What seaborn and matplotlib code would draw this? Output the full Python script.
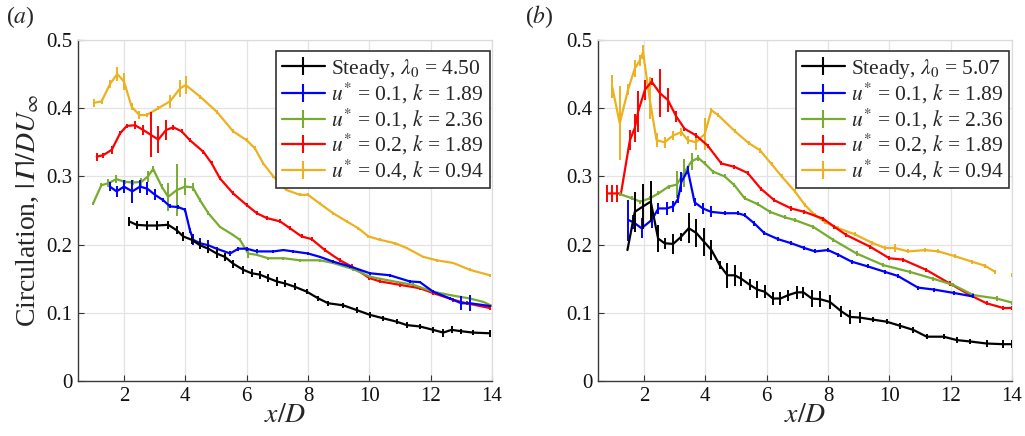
import numpy as np
import pandas as pd
import matplotlib
matplotlib.use("Agg")
import matplotlib.pyplot as plt
from matplotlib.lines import Line2D
from matplotlib.legend_handler import HandlerTuple
import seaborn as sns

# ---------------- panel (a) ----------------
A_STEADY_X = [2.17, 2.41, 2.74, 3.06, 3.44, 3.72, 3.93, 4.21, 4.48, 4.75, 5.02, 5.29, 5.56, 5.89, 6.16, 6.43,
              6.70, 6.98, 7.25, 7.58, 7.96, 8.34, 8.66, 9.15, 9.59, 10.02, 10.45, 10.89, 11.22, 11.65, 12.08,
              12.41, 12.68, 13.00, 13.38, 13.93]
A_STEADY_Y = [0.234, 0.229, 0.228, 0.228, 0.229, 0.221, 0.212, 0.207, 0.199, 0.194, 0.187, 0.182, 0.172, 0.163,
              0.158, 0.156, 0.151, 0.146, 0.143, 0.138, 0.131, 0.121, 0.114, 0.111, 0.104, 0.097, 0.092, 0.087,
              0.082, 0.080, 0.075, 0.071, 0.075, 0.073, 0.071, 0.070]
A_STEADY_E = [0.007, 0.006, 0.006, 0.006, 0.006, 0.006, 0.006, 0.006, 0.006, 0.006, 0.006, 0.006, 0.006, 0.006,
              0.006, 0.006, 0.006, 0.006, 0.005, 0.005, 0.004, 0.004, 0.004, 0.004, 0.004, 0.004, 0.004, 0.004,
              0.004, 0.004, 0.004, 0.006, 0.005, 0.004, 0.004, 0.005]

A_BLUE_X = [1.54, 1.76, 2.00, 2.27, 2.52, 2.76, 3.01, 3.28, 3.50, 3.77, 3.99, 4.15, 4.26, 4.48, 4.75, 5.02,
            5.46, 5.73, 6.00, 6.33, 6.87, 7.20, 7.52, 8.00, 8.39, 8.82, 9.37, 10.02, 10.67, 11.32, 11.65, 12.08,
            12.63, 13.00, 13.28, 13.93]
A_BLUE_Y = [0.285, 0.278, 0.285, 0.278, 0.285, 0.282, 0.273, 0.265, 0.256, 0.255, 0.251, 0.221, 0.207, 0.202,
            0.199, 0.194, 0.187, 0.194, 0.194, 0.190, 0.190, 0.192, 0.190, 0.187, 0.182, 0.175, 0.168, 0.158,
            0.155, 0.146, 0.145, 0.131, 0.121, 0.114, 0.114, 0.110]
A_BLUE_E = [0.007, 0.008, 0.010, 0.017, 0.010, 0.010, 0.008, 0.003, 0.003, 0.003, 0.003, 0.004, 0.008, 0.008,
            0.008, 0.003, 0.003, 0.003, 0.003, 0.003, 0.002, 0.002, 0.002, 0.002, 0.002, 0.002, 0.002, 0.002,
            0.002, 0.002, 0.002, 0.002, 0.002, 0.010, 0.012, 0.002]

A_GREEN_X = [0.99, 1.26, 1.49, 1.75, 2.03, 2.30, 2.57, 2.78, 2.95, 3.23, 3.44, 3.72, 3.99, 4.24, 4.48, 4.75,
             5.13, 5.56, 5.78, 6.05, 6.33, 6.70, 7.20, 7.74, 8.39, 8.82, 9.48, 10.02, 10.56, 11.43, 12.08, 12.63,
             13.28, 13.72, 14.00]
A_GREEN_Y = [0.260, 0.287, 0.290, 0.296, 0.292, 0.291, 0.292, 0.300, 0.311, 0.285, 0.270, 0.280, 0.285, 0.284,
             0.265, 0.246, 0.226, 0.214, 0.207, 0.187, 0.185, 0.180, 0.180, 0.177, 0.177, 0.173, 0.164, 0.153,
             0.148, 0.141, 0.131, 0.126, 0.121, 0.116, 0.110]
A_GREEN_E = [0.002, 0.003, 0.006, 0.006, 0.003, 0.003, 0.006, 0.008, 0.004, 0.004, 0.020, 0.038, 0.013, 0.006,
             0.003, 0.003, 0.002, 0.002, 0.002, 0.006, 0.002, 0.002, 0.002, 0.002, 0.002, 0.002, 0.002, 0.002,
             0.002, 0.002, 0.002, 0.002, 0.002, 0.002, 0.002]

A_RED_X = [1.11, 1.32, 1.60, 1.87, 2.09, 2.36, 2.63, 2.87, 3.12, 3.37, 3.61, 3.88, 4.15, 4.59, 4.86, 5.13,
           5.56, 6.00, 6.33, 6.65, 7.09, 7.41, 7.79, 8.12, 8.55, 9.04, 9.42, 10.00, 10.35, 11.00, 11.65, 12.08,
           12.74, 13.17, 13.93]
A_RED_Y = [0.329, 0.331, 0.339, 0.363, 0.374, 0.375, 0.368, 0.361, 0.354, 0.368, 0.372, 0.366, 0.353, 0.336,
           0.319, 0.297, 0.275, 0.258, 0.246, 0.239, 0.234, 0.224, 0.212, 0.208, 0.192, 0.177, 0.168, 0.151,
           0.146, 0.141, 0.136, 0.129, 0.119, 0.114, 0.107]
A_RED_E = [0.006, 0.004, 0.006, 0.003, 0.003, 0.006, 0.008, 0.033, 0.020, 0.015, 0.004, 0.003, 0.003, 0.003,
           0.003, 0.003, 0.003, 0.003, 0.003, 0.003, 0.003, 0.003, 0.003, 0.003, 0.003, 0.003, 0.003, 0.003,
           0.003, 0.003, 0.003, 0.003, 0.003, 0.003, 0.003]

A_YEL_X = [1.03, 1.27, 1.55, 1.78, 2.00, 2.25, 2.50, 2.74, 3.12, 3.50, 3.83, 4.01, 4.48, 5.02, 5.56, 6.00,
           6.27, 6.54, 6.87, 7.30, 7.74, 8.00, 8.39, 8.82, 9.26, 9.64, 9.97, 10.35, 10.84, 11.22, 11.76, 12.20,
           12.74, 13.28, 13.93]
A_YEL_Y = [0.408, 0.410, 0.436, 0.450, 0.439, 0.402, 0.390, 0.390, 0.400, 0.410, 0.429, 0.434, 0.417, 0.395,
           0.366, 0.353, 0.341, 0.319, 0.300, 0.280, 0.273, 0.273, 0.260, 0.246, 0.234, 0.224, 0.212, 0.207,
           0.202, 0.195, 0.182, 0.177, 0.173, 0.163, 0.155]
A_YEL_E = [0.006, 0.004, 0.006, 0.010, 0.012, 0.005, 0.006, 0.003, 0.003, 0.010, 0.013, 0.013, 0.003, 0.003,
           0.003, 0.003, 0.003, 0.002, 0.002, 0.002, 0.002, 0.002, 0.002, 0.002, 0.002, 0.002, 0.002, 0.002,
           0.002, 0.002, 0.002, 0.002, 0.002, 0.002, 0.002]

# ---------------- panel (b) ----------------
B_STEADY_X = [1.46, 1.70, 1.97, 2.22, 2.46, 2.67, 2.95, 3.20, 3.46, 3.71, 3.96, 4.20, 4.47, 4.72, 4.96, 5.17,
              5.45, 5.70, 5.93, 6.20, 6.45, 6.71, 6.98, 7.20, 7.47, 7.74, 8.06, 8.44, 8.71, 9.04, 9.47, 9.91,
              10.35, 10.78, 11.22, 11.77, 12.20, 12.63, 13.17, 13.72, 14.00]
B_STEADY_Y = [0.192, 0.248, 0.256, 0.263, 0.209, 0.202, 0.201, 0.211, 0.224, 0.217, 0.204, 0.192, 0.170, 0.155,
              0.155, 0.150, 0.141, 0.134, 0.131, 0.121, 0.121, 0.126, 0.130, 0.130, 0.121, 0.120, 0.116, 0.102,
              0.094, 0.093, 0.090, 0.087, 0.081, 0.075, 0.065, 0.065, 0.060, 0.058, 0.055, 0.054, 0.054]
B_STEADY_E = [0.000, 0.029, 0.033, 0.030, 0.020, 0.008, 0.015, 0.006, 0.022, 0.020, 0.020, 0.015, 0.006, 0.018,
              0.015, 0.010, 0.008, 0.012, 0.010, 0.010, 0.010, 0.008, 0.010, 0.008, 0.012, 0.012, 0.010, 0.008,
              0.010, 0.008, 0.004, 0.004, 0.004, 0.004, 0.004, 0.004, 0.004, 0.004, 0.005, 0.006, 0.006]

B_BLUE_X = [1.49, 1.65, 1.92, 2.25, 2.47, 2.74, 2.95, 3.11, 3.22, 3.43, 3.65, 3.92, 4.19, 4.63, 5.06, 5.28,
            5.60, 5.92, 6.37, 6.80, 7.23, 7.58, 8.00, 8.34, 8.77, 9.30, 9.86, 10.28, 10.93, 11.47, 12.12, 12.72]
B_BLUE_Y = [0.236, 0.233, 0.224, 0.236, 0.253, 0.253, 0.256, 0.267, 0.292, 0.309, 0.262, 0.253, 0.248, 0.246,
            0.246, 0.243, 0.231, 0.217, 0.208, 0.202, 0.195, 0.190, 0.192, 0.185, 0.175, 0.168, 0.160, 0.154,
            0.137, 0.134, 0.129, 0.124]
B_BLUE_E = [0.030, 0.010, 0.015, 0.012, 0.008, 0.010, 0.008, 0.006, 0.015, 0.006, 0.006, 0.008, 0.008, 0.003,
            0.003, 0.003, 0.003, 0.003, 0.003, 0.003, 0.003, 0.003, 0.003, 0.003, 0.003, 0.003, 0.003, 0.003,
            0.003, 0.003, 0.003, 0.003]

B_GREEN_X = [1.22, 1.60, 1.88, 2.20, 2.47, 2.80, 3.07, 3.30, 3.55, 3.77, 3.98, 4.25, 4.63, 4.95, 5.28, 5.72,
             6.11, 6.59, 6.92, 7.52, 8.17, 8.93, 9.80, 10.67, 11.43, 12.08, 12.74, 13.50, 14.00]
B_GREEN_Y = [0.274, 0.268, 0.263, 0.268, 0.275, 0.285, 0.288, 0.305, 0.322, 0.327, 0.319, 0.307, 0.300, 0.287,
             0.268, 0.259, 0.248, 0.240, 0.236, 0.226, 0.207, 0.187, 0.170, 0.160, 0.150, 0.141, 0.126, 0.121,
             0.115]
B_GREEN_E = [0.003, 0.003, 0.003, 0.003, 0.003, 0.003, 0.020, 0.020, 0.013, 0.004, 0.003, 0.003, 0.003, 0.003,
             0.003, 0.003, 0.003, 0.003, 0.003, 0.003, 0.003, 0.003, 0.003, 0.003, 0.003, 0.003, 0.003, 0.003,
             0.003]

B_RED_X = [0.80, 0.97, 1.12, 1.25, 1.54, 1.70, 1.81, 2.03, 2.25, 2.52, 2.78, 3.05, 3.32, 3.70, 4.08, 4.52,
           4.95, 5.38, 5.81, 6.25, 6.80, 7.23, 7.84, 8.21, 8.60, 9.37, 10.00, 10.44, 11.20, 11.97, 12.63, 13.17,
           13.72, 14.00]
B_RED_Y = [0.275, 0.275, 0.275, 0.275, 0.353, 0.371, 0.395, 0.427, 0.439, 0.422, 0.412, 0.388, 0.370, 0.360,
           0.345, 0.319, 0.314, 0.305, 0.282, 0.265, 0.253, 0.248, 0.238, 0.226, 0.214, 0.197, 0.180, 0.178,
           0.163, 0.143, 0.126, 0.114, 0.107, 0.107]
B_RED_E = [0.012, 0.012, 0.012, 0.000, 0.015, 0.020, 0.030, 0.015, 0.005, 0.035, 0.018, 0.008, 0.003, 0.003,
           0.003, 0.003, 0.003, 0.003, 0.003, 0.003, 0.003, 0.003, 0.003, 0.003, 0.003, 0.003, 0.003, 0.003,
           0.003, 0.003, 0.003, 0.003, 0.003, 0.003]

B_YEL_X = [0.96, 1.21, 1.48, 1.70, 1.86, 1.97, 2.18, 2.41, 2.67, 2.95, 3.22, 3.43, 3.70, 3.98, 4.20, 4.41,
           4.97, 5.41, 5.79, 6.16, 6.49, 6.92, 7.25, 7.58, 7.90, 8.34, 8.88, 9.42, 9.86, 10.18, 10.62, 11.17,
           11.60, 12.14, 12.69, 13.12, 13.45]
B_YEL_Y = [0.432, 0.378, 0.427, 0.458, 0.470, 0.482, 0.415, 0.353, 0.350, 0.360, 0.365, 0.353, 0.350, 0.362,
           0.397, 0.390, 0.366, 0.349, 0.338, 0.318, 0.300, 0.278, 0.258, 0.243, 0.233, 0.224, 0.215, 0.203,
           0.195, 0.195, 0.190, 0.192, 0.190, 0.183, 0.175, 0.169, 0.160]
B_YEL_E = [0.017, 0.054, 0.008, 0.012, 0.008, 0.010, 0.031, 0.010, 0.008, 0.006, 0.006, 0.006, 0.012, 0.024,
           0.003, 0.003, 0.003, 0.003, 0.003, 0.003, 0.003, 0.003, 0.003, 0.003, 0.003, 0.003, 0.003, 0.003,
           0.003, 0.006, 0.003, 0.003, 0.003, 0.003, 0.003, 0.003, 0.003]
B_YEL_END_X = [14.0]
B_YEL_END_Y = [0.155]
B_YEL_END_E = [0.003]

COLORS = ["#000000", "#0000ff", "#77ac30", "#ff0000", "#edb120"]
LABELS_A = [r"Steady, $\lambda_0$ = 4.50", r"$u^{*}$ = 0.1, $k$ = 1.89", r"$u^{*}$ = 0.1, $k$ = 2.36",
            r"$u^{*}$ = 0.2, $k$ = 1.89", r"$u^{*}$ = 0.4, $k$ = 0.94"]
LABELS_B = [r"Steady, $\lambda_0$ = 5.07", r"$u^{*}$ = 0.1, $k$ = 1.89", r"$u^{*}$ = 0.1, $k$ = 2.36",
            r"$u^{*}$ = 0.2, $k$ = 1.89", r"$u^{*}$ = 0.4, $k$ = 0.94"]
X_TICKS = [2, 4, 6, 8, 10, 12, 14]
Y_TICKS = [0, 0.1, 0.2, 0.3, 0.4, 0.5]
Y_TICK_LABELS = ["0", "0.1", "0.2", "0.3", "0.4", "0.5"]

SERIES_A = [(A_STEADY_X, A_STEADY_Y, A_STEADY_E), (A_BLUE_X, A_BLUE_Y, A_BLUE_E),
            (A_GREEN_X, A_GREEN_Y, A_GREEN_E), (A_RED_X, A_RED_Y, A_RED_E), (A_YEL_X, A_YEL_Y, A_YEL_E)]
SERIES_B = [(B_STEADY_X, B_STEADY_Y, B_STEADY_E), (B_BLUE_X, B_BLUE_Y, B_BLUE_E),
            (B_GREEN_X, B_GREEN_Y, B_GREEN_E), (B_RED_X, B_RED_Y, B_RED_E), (B_YEL_X, B_YEL_Y, B_YEL_E)]

sns.set_theme(style="whitegrid")
plt.rcParams["font.family"] = ["Liberation Serif", "DejaVu Serif"]
plt.rcParams["mathtext.fontset"] = "stix"

fig = plt.figure(figsize=(10.25, 4.36), dpi=100)
ax_a = fig.add_axes([0.0761, 0.1261, 0.4039, 0.7822])
ax_b = fig.add_axes([0.5834, 0.1261, 0.4039, 0.7822])


def draw_panel(ax, series, labels):
    # draw back to front so the steady case sits on top
    for i in [4, 3, 2, 1, 0]:
        xs, ys, es = series[i]
        df = pd.DataFrame({"x": xs, "y": ys})
        sns.lineplot(data=df, x="x", y="y", ax=ax, color=COLORS[i], lw=1.6,
                     estimator=None, sort=False, zorder=3 + (4 - i) * 0.1)
        ax.errorbar(xs, ys, yerr=es, fmt="none", ecolor=COLORS[i], elinewidth=1.4,
                    capsize=0, zorder=3 + (4 - i) * 0.1)
    ax.set_xlim(0.5, 14)
    ax.set_ylim(0, 0.5)
    ax.set_xticks(X_TICKS)
    ax.set_yticks(Y_TICKS)
    ax.set_yticklabels(Y_TICK_LABELS)
    ax.set_xlabel(r"$x/D$", fontsize=20, labelpad=-2)
    ax.set_ylabel("")
    ax.grid(True, color="#e3e3e3", lw=0.9)
    ax.set_facecolor("white")
    ax.tick_params(axis="both", labelsize=15, direction="in", length=4, width=0.8,
                   color="#333333", pad=4, left=True, bottom=True, labelcolor="#111111")
    for side in ["left", "bottom"]:
        ax.spines[side].set_color("#3a3a3a")
        ax.spines[side].set_linewidth(1.0)
    for side in ["top", "right"]:
        ax.spines[side].set_color("#dcdcdc")
        ax.spines[side].set_linewidth(0.9)
    handles = [(Line2D([], [], color=c, lw=1.6),
                Line2D([], [], color=c, marker="|", markersize=13, markeredgewidth=1.5, linestyle="none"))
               for c in COLORS]
    leg = ax.legend(handles, labels, handler_map={tuple: HandlerTuple(ndivide=1)},
                    loc="upper right", bbox_to_anchor=(1.0 - 2.5 / 414, 1.0 - 11.5 / 341),
                    borderaxespad=0.0, fontsize=15.5, frameon=True, fancybox=False, framealpha=1,
                    edgecolor="#333333", borderpad=0.25, handlelength=2.0, handletextpad=0.3,
                    labelspacing=0.02)
    leg.get_frame().set_linewidth(1.2)
    leg.set_zorder(10)


draw_panel(ax_a, SERIES_A, LABELS_A)
draw_panel(ax_b, SERIES_B, LABELS_B)

# isolated final sample of the u*=0.4 case in panel (b)
ax_b.errorbar(B_YEL_END_X, B_YEL_END_Y, yerr=B_YEL_END_E, fmt="none", ecolor=COLORS[4],
              elinewidth=1.4, capsize=0, zorder=3)

ax_a.set_ylabel("Circulation, $|\U0001D6E4|/DU_{\\infty}$", fontsize=20, labelpad=4)

fig.text(0.006, 0.962, r"($a$)", fontsize=17, ha="left", va="center")
fig.text(0.512, 0.962, r"($b$)", fontsize=17, ha="left", va="center")

fig.savefig("out.png", dpi=100, facecolor="white")
